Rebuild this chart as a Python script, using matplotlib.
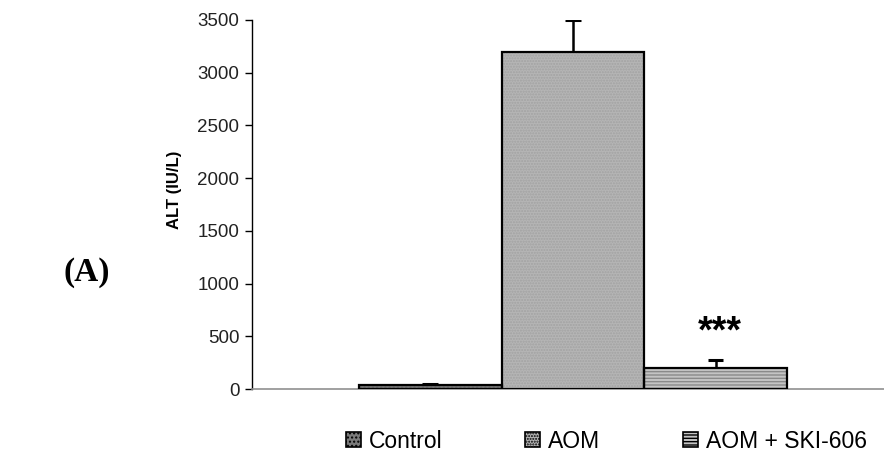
import matplotlib
matplotlib.use("Agg")
import matplotlib.pyplot as plt
from matplotlib.patches import Patch

plt.rcParams['font.family'] = ['Liberation Sans', 'DejaVu Sans']
plt.rcParams['hatch.linewidth'] = 1.0

groups = ["Control", "AOM", "AOM + SKI-606"]
alt_mean = [40, 3200, 200]
alt_err = [5, 300, 75]
yticks = [0, 500, 1000, 1500, 2000, 2500, 3000, 3500]

face = ["#7a7a7a", "#b5b5b5", "#c4c4c4"]
hatch_col = ["#6a6a6a", "#a2a2a2", "#8a8a8a"]
hatches = ["....", "......", "-----"]

fig = plt.figure(figsize=(8.84, 4.62), dpi=100)
ax = fig.add_axes([0.285, 0.158, 0.715, 0.799])

xs = list(range(len(groups)))
cap_half = 0.055
for x, v, e, f, hc, h in zip(xs, alt_mean, alt_err, face, hatch_col, hatches):
    ax.bar(x, v, width=1.0, color=f, edgecolor=hc, hatch=h, linewidth=0, zorder=2)
    ax.bar(x, v, width=1.0, fill=False, edgecolor="black", linewidth=1.6, zorder=3)
    # upper-only error bar with a single cap
    ax.vlines(x, v, v + e, color="black", linewidth=1.8, zorder=4)
    ax.hlines(v + e, x - cap_half, x + cap_half, color="black", linewidth=2.2, zorder=4)

ax.text(xs[2] + 0.03, alt_mean[2] + alt_err[2] + 90, "***", ha="center", va="bottom",
        fontsize=27, fontweight="bold")

ax.set_xlim(-1.25, 3.18)
ax.set_ylim(0, 3500)
ax.set_yticks(yticks)
ax.set_yticklabels([str(t) for t in yticks], fontsize=13.5, color="#222222")
ax.set_xticks([])
ax.tick_params(axis="y", direction="out", length=5, width=1, pad=4)
ax.set_ylabel("ALT (IU/L)", fontsize=12, fontweight="bold")
ax.yaxis.set_label_coords(-0.111, 0.539)

for s in ["top", "right"]:
    ax.spines[s].set_visible(False)
ax.spines["left"].set_linewidth(1.0)
ax.spines["bottom"].set_color("#909090")
ax.spines["bottom"].set_linewidth(1.2)

handles = [Patch(facecolor=f, edgecolor="black", hatch=h, linewidth=1.2)
           for f, h in zip(face, hatches)]
fig.legend(handles, groups, loc="center", bbox_to_anchor=(0.686, 0.045),
           ncol=3, frameon=False, fontsize=16.5, handlelength=0.65, handleheight=0.65,
           handletextpad=0.35, columnspacing=3.6)

fig.text(0.098, 0.41, "(A)", fontsize=24, fontweight="bold",
         family=["Liberation Serif", "DejaVu Serif"], ha="center", va="center")

fig.savefig("out.png", dpi=100)
